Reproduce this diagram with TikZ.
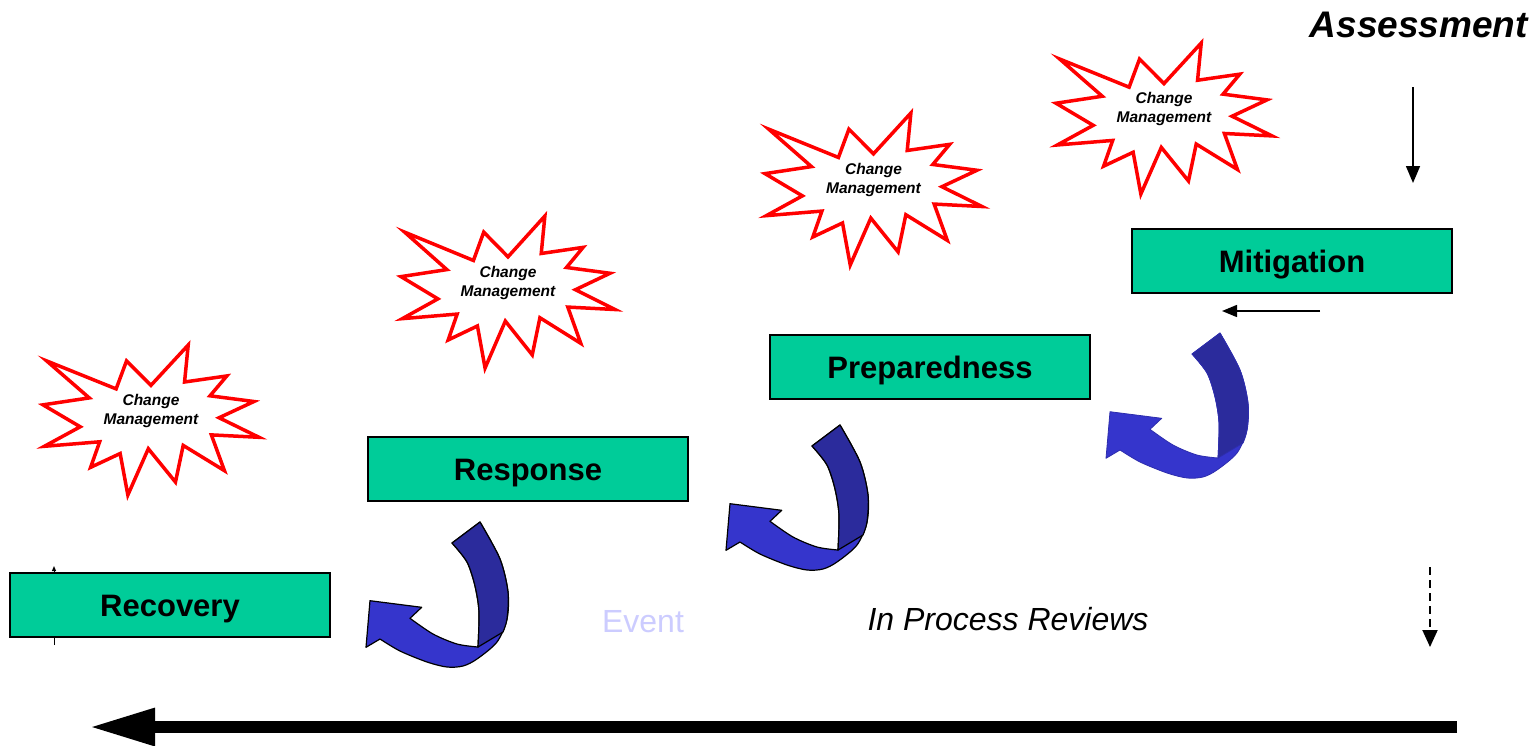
\documentclass[tikz,border=0pt]{standalone}
\usepackage{fontspec}
\setmainfont{Liberation Sans}
\usetikzlibrary{arrows.meta}
\definecolor{boxgreen}{HTML}{00CC99}
\definecolor{arrlight}{HTML}{3535CC}
\definecolor{arrdark}{HTML}{2B2B9C}
\definecolor{eventc}{HTML}{CCCCFF}
\tikzset{
 phase/.style={draw=black, line width=1.5pt, fill=boxgreen, minimum width=320pt, minimum height=64pt, inner sep=0pt, text height=22.2pt, text depth=0pt, font=\fontsize{31}{36}\selectfont\bfseries},
 cmtext/.style={align=center, font=\fontsize{15.5}{19}\selectfont\bfseries\itshape, inner sep=0pt},
 seal/.style={draw=red, fill=white, line width=3.5pt, line join=miter},
 thinarrow/.style={line width=1.5pt, -{Triangle[length=17pt,width=14pt]}},
 curvy/.pic={
  \path[fill=arrlight, pic actions] (20,120) -- (6,128.3) -- (10,81.7) -- (61.7,88.3) -- (50,99.3)
    -- plot[smooth] coordinates {(50,99.3) (73,115) (97,125) (118,128)}
    -- plot[smooth] coordinates {(118,128) (119,93) (115,67) (107,43) (92,24)}
    -- (120,3)
    -- plot[smooth] coordinates {(120,3) (140,40) (148,73) (147,100) (137,123) (117,140) (103,147) (87,148) (67,143) (40,132) (20,120)}
    -- cycle;
  \path[fill=arrdark, pic actions] (120,3)
    -- plot[smooth] coordinates {(120,3) (140,40) (148,73) (147,100) (143,113)}
    -- (118,128)
    -- plot[smooth] coordinates {(118,128) (119,93) (115,67) (107,43) (92,24)}
    -- cycle;
 },
 curvyline/.style={draw=black, line width=1.2pt, line join=round}
}
\newcommand\cmstar[5]{%
 \begin{scope}[shift={(#1,#2)}, xscale=#3/216, yscale=#4/216]
   \draw[seal] (108,58) -- (145.22,0) -- (141.55,53.25) -- (183.80,44.57) -- (167.02,73.15)
     -- (210.97,81.37) -- (176.07,104.75) -- (216,132.90) -- (168.37,129.42) -- (181.45,180.95)
     -- (140.20,144.57) -- (132.47,197.37) -- (105.32,149.35) -- (84.85,216) -- (77.15,156.27)
     -- (47.62,176.17) -- (56.67,139.37) -- (1.35,145.87) -- (37.22,117.75) -- (0,86.15)
     -- (46.27,76.17) -- (3.70,22.95) -- (73.12,63.20) -- (83.52,22.95) -- cycle;
 \end{scope}
 \node[cmtext] (#5) at ({#1+#3/2},{#2+0.44*#4}) {Change\\Management};
}
\begin{document}
\begin{tikzpicture}[x=1pt,y=-1pt]
\useasboundingbox (0,0) rectangle (1533,745);
\fill[white] (0,0) rectangle (1533,745);

% thin vertical line behind Recovery
\coordinate (rl1) at (54,645);
\coordinate (rl2) at (54,566);
\draw[line width=1pt, -{Triangle[length=5pt,width=4pt]}] (rl1) -- (rl2);

% phase boxes
\node[phase] (mit) at (1292,261) {Mitigation};
\node[phase] (prep) at (930,367) {Preparedness};
\node[phase] (resp) at (528,469) {Response};
\node[phase] (rec) at (170,605) {Recovery};

% change management starbursts
\cmstar{43}{345}{216}{150}{cm1}
\cmstar{401}{216}{214}{152}{cm2}
\cmstar{765}{113}{217}{152}{cm3}
\cmstar{1056}{43}{216}{151}{cm4}

% curved arrows
\pic[draw=arrlight!85!black, line width=0.8pt, line join=round] at (1100,330) {curvy};
\pic[curvyline] at (720,422) {curvy};
\pic[curvyline] at (360,519) {curvy};

% texts
\node[anchor=base east, inner sep=0pt, font=\fontsize{37}{40}\selectfont\bfseries\itshape] (assess) at (1528,37) {Assessment};
\node[anchor=base, inner sep=0pt, text=eventc, font=\fontsize{32}{36}\selectfont] (event) at (643,632) {Event};
\node[anchor=base, inner sep=0pt, font=\fontsize{32}{36}\selectfont\itshape] (ipr) at (1008,630) {In Process Reviews};

% arrows
\coordinate (dA) at (1413,87);
\coordinate (dB) at (1413,183);
\draw[thinarrow] (dA) -- (dB);
\coordinate (lA) at (1320,311);
\coordinate (lB) at (1222,311);
\draw[line width=1.5pt, -{Triangle[length=15pt,width=12pt]}] (lA) -- (lB);
\coordinate (sA) at (1430,567);
\coordinate (sB) at (1430,647);
\draw[line width=2pt, dash pattern=on 8pt off 5pt, -{Triangle[length=17pt,width=15pt]}] (sA) -- (sB);
\coordinate (bA) at (1457,727);
\coordinate (bB) at (89,727);
\draw[line width=12pt, -{Triangle[length=66pt,width=35pt]}] (bA) -- (bB);
\end{tikzpicture}
\end{document}
